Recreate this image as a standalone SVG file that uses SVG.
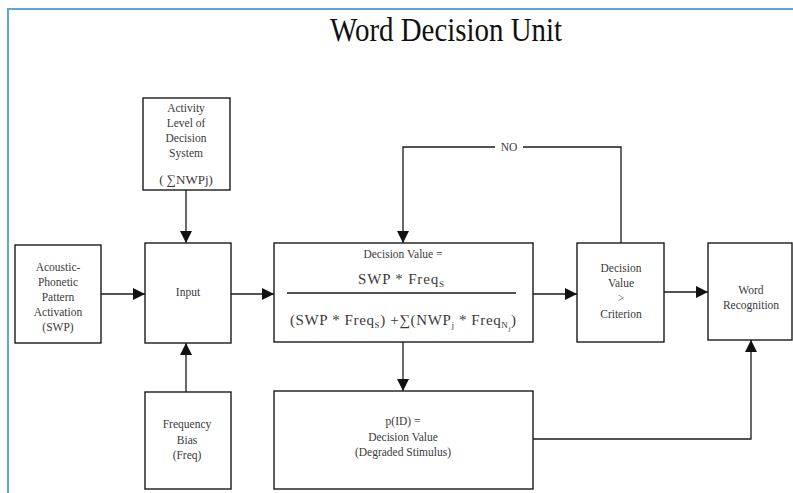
<svg xmlns="http://www.w3.org/2000/svg" width="793" height="493" viewBox="0 0 793 493">
<defs>
<style>
.box{fill:#fff;stroke:#1a1a1a;stroke-width:1.4}
.ln{fill:none;stroke:#1a1a1a;stroke-width:1.3}
text{font-family:"Liberation Serif","Times New Roman",serif;fill:#3a3a3a;text-anchor:middle}
.t{font-size:11.5px}
.f{font-size:15px}
.s{font-size:9px}
</style>
<marker id="ah" viewBox="0 0 12 12" refX="12" refY="6" markerWidth="12" markerHeight="12" markerUnits="userSpaceOnUse" orient="auto">
<path d="M0,0 L12,6 L0,12 Z" fill="#111"/>
</marker>
</defs>
<rect x="0" y="0" width="793" height="493" fill="#fff"/>
<path d="M8,493 L8,9 L793,9" fill="none" stroke="#5ba8d4" stroke-width="2"/>
<text x="446" y="41" style="font-size:33px;fill:#111" textLength="232" lengthAdjust="spacingAndGlyphs">Word Decision Unit</text>

<g id="connectors">
<path class="ln" d="M101,294 H145" marker-end="url(#ah)"/>
<path class="ln" d="M186,190 V243" marker-end="url(#ah)"/>
<path class="ln" d="M186,392 V343" marker-end="url(#ah)"/>
<path class="ln" d="M231,294 H274" marker-end="url(#ah)"/>
<path class="ln" d="M533,294 H577" marker-end="url(#ah)"/>
<path class="ln" d="M664,292 H708" marker-end="url(#ah)"/>
<path class="ln" d="M403,342 V391" marker-end="url(#ah)"/>
<path class="ln" d="M621,243 V147 H523"/>
<path class="ln" d="M495,147 H403 V243" marker-end="url(#ah)"/>
<text class="t" x="509" y="151">NO</text>
<path class="ln" d="M533,439 H751 V340" marker-end="url(#ah)"/>
</g>

<g id="activity">
<rect class="box" x="143" y="98" width="87" height="92"/>
<text class="t" x="186" y="112">Activity</text>
<text class="t" x="186" y="127">Level of</text>
<text class="t" x="186" y="142">Decision</text>
<text class="t" x="186" y="157">System</text>
<text x="186" y="184" style="font-size:13px">( ∑NWPj)</text>
</g>

<g id="acoustic">
<rect class="box" x="15" y="245" width="86" height="98"/>
<text class="t" x="58" y="271">Acoustic-</text>
<text class="t" x="58" y="286">Phonetic</text>
<text class="t" x="58" y="301">Pattern</text>
<text class="t" x="58" y="316">Activation</text>
<text class="t" x="58" y="331">(SWP)</text>
</g>

<g id="input">
<rect class="box" x="145" y="243" width="86" height="100"/>
<text class="t" x="188" y="296">Input</text>
</g>

<g id="frequency">
<rect class="box" x="145" y="392" width="86" height="97"/>
<text class="t" x="187" y="428">Frequency</text>
<text class="t" x="187" y="444">Bias</text>
<text class="t" x="187" y="459">(Freq)</text>
</g>

<g id="decision">
<rect class="box" x="274" y="243" width="259" height="99"/>
<text class="t" x="403" y="258">Decision Value =</text>
<text class="f" x="358" y="284" style="text-anchor:start" textLength="86" lengthAdjust="spacing">SWP * Freq<tspan class="s" dy="3">S</tspan></text>
<path class="ln" d="M287,293 H516"/>
<text class="f" x="290" y="325" style="text-anchor:start" textLength="226" lengthAdjust="spacing">(SWP * Freq<tspan class="s" dy="3">S</tspan><tspan dy="-3">) +∑(NWP</tspan><tspan class="s" dy="3">j</tspan><tspan dy="-3"> * Freq</tspan><tspan class="s" dy="3">N</tspan><tspan class="s" dy="3" style="font-size:7px">j</tspan><tspan dy="-6">)</tspan></text>
</g>

<g id="pid">
<rect class="box" x="274" y="391" width="259" height="98"/>
<text class="t" x="403" y="425">p(ID) =</text>
<text class="t" x="403" y="441">Decision Value</text>
<text class="t" x="403" y="456">(Degraded Stimulus)</text>
</g>

<g id="criterion">
<rect class="box" x="577" y="243" width="87" height="99"/>
<text class="t" x="621" y="272">Decision</text>
<text class="t" x="621" y="287">Value</text>
<text class="t" x="621" y="302">&gt;</text>
<text class="t" x="621" y="318">Criterion</text>
</g>

<g id="wordrec">
<rect class="box" x="708" y="243" width="84" height="97"/>
<text class="t" x="751" y="294">Word</text>
<text class="t" x="751" y="309">Recognition</text>
</g>
</svg>
